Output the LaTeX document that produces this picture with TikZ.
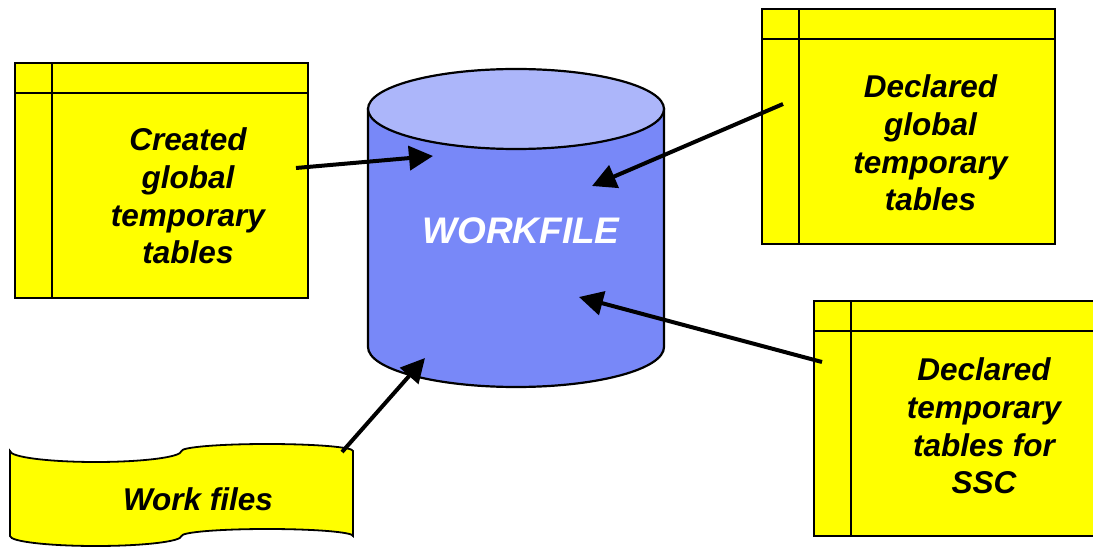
\documentclass[tikz,border=0pt]{standalone}
\usepackage{fontspec}
\setmainfont{Liberation Sans}
\usepackage{tikz}
\usetikzlibrary{
        arrows.meta,
        positioning,
        shapes.geometric
    }
\definecolor{tabyellow}{RGB}{255,255,0}
\definecolor{cylbody}{RGB}{120,136,248}
\definecolor{cyltop}{RGB}{172,182,250}
\tikzset{>={Triangle[length=24pt,width=24pt]},x=1pt,y=1pt}
\tikzset{
    tablebox/.style={draw, line width=1.8pt, fill=tabyellow, minimum width=293pt,
        minimum height=235pt, inner sep=0pt,
        path picture={
            \draw[line width=1.8pt] ([xshift=37pt]path picture bounding box.north west)
                -- ([xshift=37pt]path picture bounding box.south west);
            \draw[line width=1.8pt] ([yshift=-30pt]path picture bounding box.north west)
                -- ([yshift=-30pt]path picture bounding box.north east);
        }},
    tabletext/.style={align=center, inner sep=0pt,
        font=\fontsize{31.5}{37.7}\selectfont\bfseries\itshape},
    feed/.style={->, line width=4pt}
}

\begin{document}
\begin{tikzpicture}
                \path[use as bounding box, clip] (0,0) rectangle (1093,547);
                % table boxes
                \node[tablebox] (cgtt) at (161.5,366.5) {};
                \node[tablebox] (dgtt) at (908.5,420.5) {};
                \node[tablebox] (dtt)  at (960.5,128.5) {};
                \node[tabletext] (cgttl) at ([xshift=26.5pt,yshift=-15.5pt]cgtt.center)
                    {Created\\global\\temporary\\tables};
                \node[tabletext] (dgttl) at ([xshift=22pt,yshift=-16.5pt]dgtt.center)
                    {Declared\\global\\temporary\\tables};
                \node[tabletext] (dttl)  at ([xshift=23.5pt,yshift=-7.5pt]dtt.center)
                    {Declared\\temporary\\tables for\\SSC};
                % work files tape
                \draw[line width=1.8pt, fill=tabyellow]
                    (10,96) arc[start angle=180, end angle=360, x radius=85.75pt, y radius=11pt]
                    arc[start angle=180, end angle=0, x radius=85.75pt, y radius=7pt]
                    -- (353,11)
                    arc[start angle=0, end angle=180, x radius=85.75pt, y radius=7pt]
                    arc[start angle=0, end angle=-180, x radius=85.75pt, y radius=10pt]
                    -- cycle;
                \node[tabletext] (wfiles) at (198,48) {Work files};
                % workfile cylinder
                \draw[line width=2.2pt, fill=cylbody]
                    (368,438) -- (368,200)
                    arc[start angle=180, end angle=360, x radius=148pt, y radius=40pt]
                    -- (664,438) -- cycle;
                \draw[line width=2.2pt, fill=cyltop] (516,438) ellipse[x radius=148pt, y radius=40pt];
                \node[tabletext, text=white, font=\fontsize{37}{44}\selectfont\bfseries\itshape]
                    (wf) at (521,316.5) {WORKFILE};
                % arrow ends
                \coordinate (s1) at (296,379);
                \coordinate (t1) at (433,391);
                \coordinate (s2) at (783,443);
                \coordinate (t2) at (592,361);
                \coordinate (s3) at (822,185);
                \coordinate (t3) at (579,250);
                \coordinate (s4) at (342,95);
                \coordinate (t4) at (425,189);
                \draw[feed] (s1) -- (t1);
                \draw[feed] (s2) -- (t2);
                \draw[feed] (s3) -- (t3);
                \draw[feed] (s4) -- (t4);
            \end{tikzpicture}
\end{document}
